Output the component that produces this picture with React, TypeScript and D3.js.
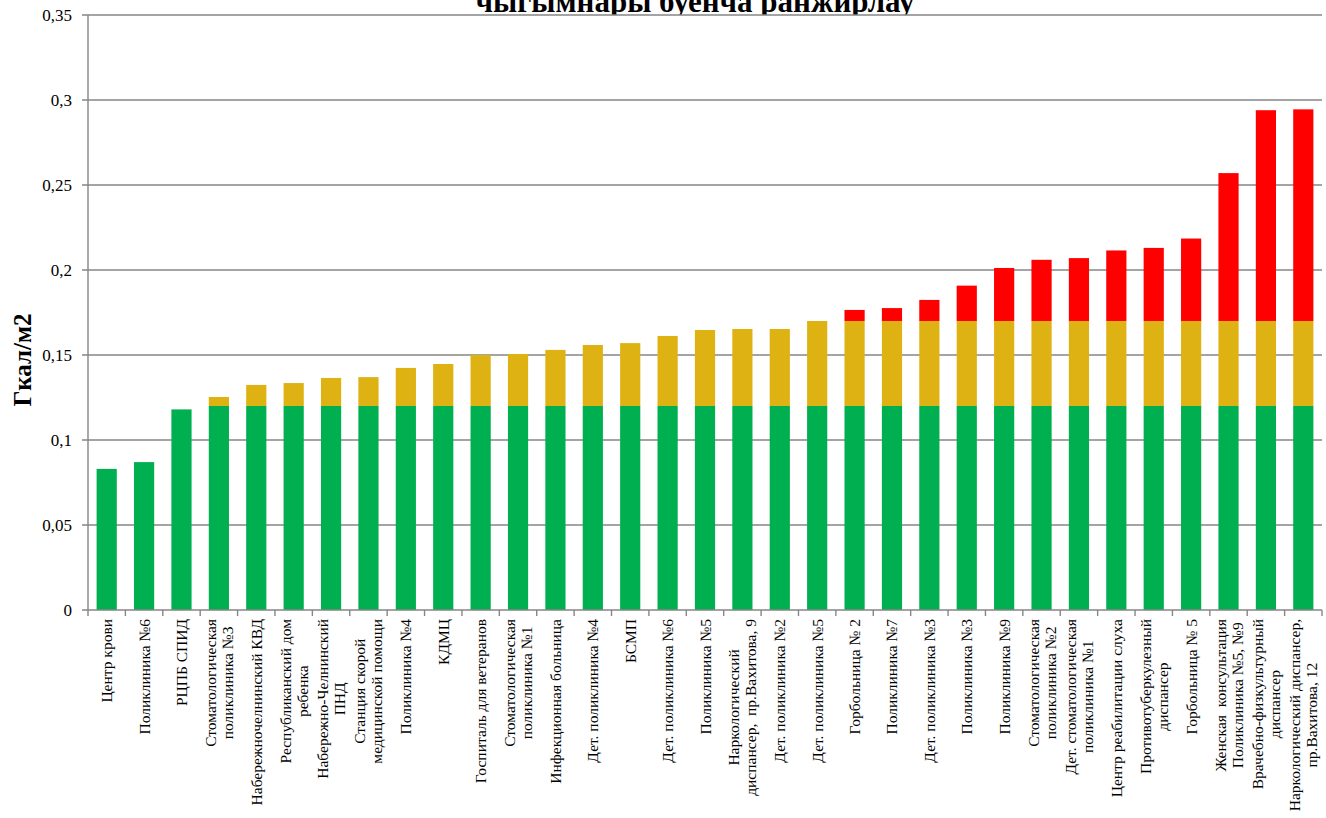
import { useEffect, useRef } from "react";
import * as d3 from "d3";

const W = 1326;
const H = 818;
const M = { left: 88, right: 4, top: 15, bottom: 208 };
const FONT = '"Liberation Serif", "Times New Roman", serif';

const TITLE = "чыгымнары буенча ранжирлау";
const Y_LABEL = "Гкал/м2";

// подписи категорий (по строкам, как в исходнике)
const CATEGORIES: string[][] = [
  ["Центр крови"],
  ["Поликлиника №6"],
  ["РЦПБ СПИД"],
  ["Стоматологическая", "поликлиника №3"],
  ["Набережночелнинский КВД"],
  ["Республиканский дом", "ребенка"],
  ["Набережно-Челнинский", "ПНД"],
  ["Станция скорой", "медицинской помощи"],
  ["Поликлиника №4"],
  ["КДМЦ"],
  ["Госпиталь для ветеранов"],
  ["Стоматологическая", "поликлиника №1"],
  ["Инфекционная больница"],
  ["Дет. поликлиника №4"],
  ["БСМП"],
  ["Дет. поликлиника №6"],
  ["Поликлиника №5"],
  ["Наркологический", "диспансер,  пр.Вахитова, 9"],
  ["Дет. поликлиника №2"],
  ["Дет. поликлиника №5"],
  ["Горбольница № 2"],
  ["Поликлиника №7"],
  ["Дет. поликлиника №3"],
  ["Поликлиника №3"],
  ["Поликлиника №9"],
  ["Стоматологическая", "поликлиника №2"],
  ["Дет. стоматологическая", "поликлиника №1"],
  ["Центр реабилитации слуха"],
  ["Противотуберкулезный", "диспансер"],
  ["Горбольница № 5"],
  ["Женская  консультация", "Поликлиника №5, №9"],
  ["Врачебно-физкультурный", "диспансер"],
  ["Наркологический диспансер,", "пр.Вахитова, 12"],
];

// зелёная часть (до 0,12)
const GREEN = [
  0.083, 0.087, 0.118, 0.12, 0.12, 0.12, 0.12, 0.12, 0.12, 0.12, 0.12,
  0.12, 0.12, 0.12, 0.12, 0.12, 0.12, 0.12, 0.12, 0.12, 0.12, 0.12,
  0.12, 0.12, 0.12, 0.12, 0.12, 0.12, 0.12, 0.12, 0.12, 0.12, 0.12,
];
// жёлтая часть (0,12 – 0,17)
const YELLOW = [
  0, 0, 0, 0.0053, 0.0124, 0.0135, 0.0165, 0.017, 0.0224, 0.0247, 0.03,
  0.0306, 0.033, 0.0359, 0.037, 0.0412, 0.0447, 0.0453, 0.0453, 0.05, 0.05, 0.05,
  0.05, 0.05, 0.05, 0.05, 0.05, 0.05, 0.05, 0.05, 0.05, 0.05, 0.05,
];
// красная часть (выше 0,17)
const RED = [
  0, 0, 0, 0, 0, 0, 0, 0, 0, 0, 0,
  0, 0, 0, 0, 0, 0, 0, 0, 0, 0.0065, 0.0076,
  0.0124, 0.0208, 0.0312, 0.036, 0.037, 0.0415, 0.043, 0.0485, 0.087, 0.124, 0.1245,
];

const SERIES = [
  { values: GREEN, color: "#00B050" },
  { values: YELLOW, color: "#DFB213" },
  { values: RED, color: "#FF0000" },
];

const Y_TICKS = [0, 0.05, 0.1, 0.15, 0.2, 0.25, 0.3, 0.35];
const GRID = "#868686";

export default function App() {
  const svgRef = useRef<SVGSVGElement>(null);

  useEffect(() => {
    if (!svgRef.current) return;
    const svg = d3.select(svgRef.current);
    svg.selectAll("*").remove();

    const x = d3
      .scaleBand<number>()
      .domain(d3.range(CATEGORIES.length))
      .range([M.left, W - M.right])
      .paddingInner(0.46)
      .paddingOuter(0.23);
    const step = x.step();
    const y = d3.scaleLinear().domain([0, 0.35]).range([H - M.bottom, M.top]);

    // заголовок (обрезан сверху)
    svg.append("text")
      .attr("x", 695).attr("y", 12)
      .attr("text-anchor", "middle")
      .attr("font-family", FONT).attr("font-size", "31px").attr("font-weight", "bold")
      .text(TITLE);

    // белая область построения поверх заголовка
    svg.append("rect")
      .attr("x", M.left).attr("y", M.top)
      .attr("width", W - M.right - M.left).attr("height", H - M.bottom - M.top)
      .attr("fill", "#fff");

    // сетка
    Y_TICKS.forEach((t) => {
      if (t === 0) return;
      svg.append("line")
        .attr("x1", M.left - 6).attr("x2", W - M.right)
        .attr("y1", y(t)).attr("y2", y(t))
        .attr("stroke", GRID).attr("stroke-width", 1.4);
    });

    // столбцы
    const stack = d3.range(CATEGORIES.length).map((i) => {
      let acc = 0;
      return SERIES.map((s) => {
        const y0 = acc;
        acc += s.values[i];
        return { y0, y1: acc, color: s.color };
      });
    });
    stack.forEach((segs, i) => {
      segs.forEach((s) => {
        if (s.y1 - s.y0 <= 0) return;
        svg.append("rect")
          .attr("x", x(i)!).attr("width", x.bandwidth())
          .attr("y", y(s.y1)).attr("height", y(s.y0) - y(s.y1))
          .attr("fill", s.color);
      });
    });

    // оси
    svg.append("line")
      .attr("x1", M.left).attr("x2", M.left)
      .attr("y1", M.top).attr("y2", y(0))
      .attr("stroke", GRID).attr("stroke-width", 1.4);
    svg.append("line")
      .attr("x1", M.left - 6).attr("x2", W - M.right)
      .attr("y1", y(0)).attr("y2", y(0))
      .attr("stroke", GRID).attr("stroke-width", 1.4);
    d3.range(CATEGORIES.length + 1).forEach((i) => {
      const xx = M.left + i * step;
      svg.append("line")
        .attr("x1", xx).attr("x2", xx)
        .attr("y1", y(0)).attr("y2", y(0) + 6)
        .attr("stroke", GRID).attr("stroke-width", 1.4);
    });

    // подписи оси Y
    Y_TICKS.forEach((t) => {
      svg.append("text")
        .attr("x", 72).attr("y", y(t))
        .attr("text-anchor", "end").attr("dominant-baseline", "central")
        .attr("font-family", FONT).attr("font-size", "17px")
        .text(String(t).replace(".", ","));
    });

    svg.append("text")
      .attr("transform", `translate(31,360) rotate(-90)`)
      .attr("text-anchor", "middle")
      .attr("font-family", FONT).attr("font-size", "25px").attr("font-weight", "bold")
      .text(Y_LABEL);

    // подписи категорий
    const lineH = 17;
    CATEGORIES.forEach((lines, i) => {
      const cx = x(i)! + x.bandwidth() / 2;
      const g = svg.append("g");
      const texts = lines.map((ln, k) =>
        g.append("text")
          .attr("font-family", FONT).attr("font-size", "15.5px")
          .attr("text-anchor", "middle")
          .attr("dominant-baseline", "central")
          .attr("xml:space", "preserve")
          .attr("transform", `translate(${cx + (k - (lines.length - 1) / 2) * lineH},0) rotate(-90)`)
          .text(ln)
      );
      const maxW = d3.max(texts, (t) => (t.node() as SVGTextElement).getComputedTextLength()) ?? 0;
      const cy = y(0) + 9 + maxW / 2;
      texts.forEach((t, k) =>
        t.attr("transform", `translate(${cx + (k - (lines.length - 1) / 2) * lineH},${cy}) rotate(-90)`)
      );
    });
  }, []);

  return (
    <svg
      ref={svgRef}
      width={W}
      height={H}
      viewBox={`0 0 ${W} ${H}`}
      style={{ position: "absolute", left: 0, top: 0, background: "#fff", display: "block" }}
    />
  );
}
